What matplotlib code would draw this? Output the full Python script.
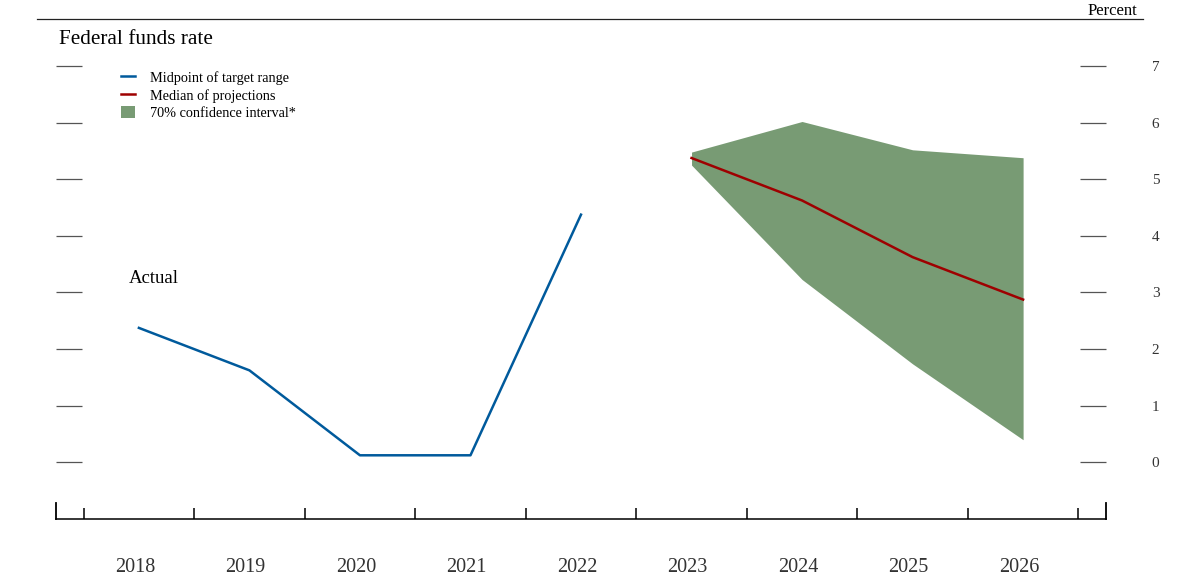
import matplotlib
matplotlib.use('Agg')
import matplotlib.pyplot as plt
from matplotlib.lines import Line2D
from matplotlib.patches import Patch
from matplotlib.transforms import ScaledTranslation
import numpy as np

# data
actual_years = [2018, 2019, 2020, 2021, 2022]
actual_rate = [2.375, 1.625, 0.125, 0.125, 4.375]

proj_years = [2023, 2024, 2025, 2026]
median_proj = [5.375, 4.625, 3.625, 2.875]
ci_upper = [5.48, 6.02, 5.52, 5.38]
ci_lower = [5.25, 3.23, 1.74, 0.40]

year_labels = [2018, 2019, 2020, 2021, 2022, 2023, 2024, 2025, 2026]
y_ticks = [0, 1, 2, 3, 4, 5, 6, 7]

blue = '#005a9c'
red = '#9e0000'
green = '#789b74'
txt = '#333333'

plt.rcParams['font.family'] = ['Liberation Serif', 'DejaVu Serif']

W, H = 1178, 587
fig = plt.figure(figsize=(W/100, H/100), dpi=100)
ax = fig.add_axes([56/W, 1-519/H, (1106-56)/W, (519-19)/H])

ax.fill_between(proj_years, ci_lower, ci_upper, color=green, lw=0)
ax.plot(actual_years, actual_rate, color=blue, lw=1.8)
ax.plot(proj_years, median_proj, color=red, lw=1.8)

ax.set_xlim(2017.25, 2026.75)
ax.set_ylim(-1, 7.83)

# y ticks as short gray dashes on both sides, labels on the right
ax.set_yticks(y_ticks)
ax.tick_params(axis='y', which='major', direction='in', length=18.5, width=0.9,
               color='#555555', left=True, right=True, labelleft=False,
               labelright=True, pad=33, labelsize=11, labelcolor=txt)

# x axis: labels at year centres, tick marks at year boundaries
ax.set_xticks(year_labels)
ax.set_xticklabels([str(y) for y in year_labels])
ax.set_xticks(np.arange(2017.5, 2027, 1.0), minor=True)
ax.tick_params(axis='x', which='major', length=0, pad=28, labelsize=14.5,
               labelcolor=txt)
ax.tick_params(axis='x', which='minor', direction='in', length=8, width=1.1,
               color='black')
shift = ScaledTranslation(-4/100, 0, fig.dpi_scale_trans)
for lab in ax.get_xticklabels():
    lab.set_transform(lab.get_transform() + shift)

ax.spines['top'].set_visible(False)
ax.spines['bottom'].set_linewidth(1.1)
ax.spines['left'].set_bounds(-1, -0.72)
ax.spines['right'].set_bounds(-1, -0.72)
ax.spines['left'].set_linewidth(1.3)
ax.spines['right'].set_linewidth(1.3)

ax.text(2017.91, 3.25, 'Actual', fontsize=13.5, va='center', ha='left')

fig.add_artist(Line2D([37/W, 1143/W], [1-19/H, 1-19/H], color='#222222', lw=0.9))
fig.text(1137/W, 1-11/H, 'Percent', fontsize=12, ha='right', va='center')
fig.text(59/W, 1-40/H, 'Federal funds rate', fontsize=15.3, ha='left', va='center')

handles = [Line2D([], [], color=blue, lw=1.8),
           Line2D([], [], color=red, lw=1.8),
           Patch(facecolor=green, edgecolor='none')]
labels = ['Midpoint of target range', 'Median of projections', '70% confidence interval*']
fig.legend(handles, labels, loc='upper left', bbox_to_anchor=(121/W, 1-71/H),
           frameon=False, fontsize=10.3, handlelength=1.0, handletextpad=1.05,
           labelspacing=0.27, borderpad=0, borderaxespad=0, handleheight=0.9)

fig.savefig('out.png', dpi=100)
